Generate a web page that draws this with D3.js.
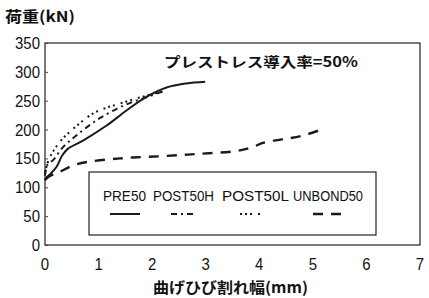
<!DOCTYPE html>
<html lang="ja">
<head>
<meta charset="utf-8">
<title>load vs crack width</title>
<script src="https://cdn.jsdelivr.net/npm/d3@7"></script>
<style>
  body { margin: 0; background: #fff; }
  text { fill: #111; }
</style>
</head>
<body>
<script>
// crack width (mm) / load (kN)
var pre50 = [[0, 112], [0.03, 117], [0.12, 125], [0.22, 136], [0.32, 155], [0.43, 167], [0.71, 181],
             [1.15, 207], [1.52, 233], [1.9, 257], [2.27, 273], [2.64, 280], [2.99, 283]];
var post50h = [[0, 120], [0.05, 140], [0.15, 147], [0.34, 170], [0.59, 190], [0.96, 216],
               [1.34, 236], [1.64, 248], [1.96, 258], [2.25, 268]];
var post50l = [[0, 125], [0.08, 150], [0.28, 179], [0.45, 195], [0.65, 211], [0.9, 228],
               [1.15, 238], [1.4, 245], [1.71, 254], [2.02, 262], [2.2, 266]];
var unbond50 = [[0, 113], [0.1, 120], [0.28, 127], [0.59, 140], [1.4, 150], [2.2, 154],
                [2.89, 158], [3.58, 163], [3.88, 170], [4.07, 177], [4.42, 183], [4.79, 189], [5.16, 200]];

var seriesNames = ["PRE50", "POST50H", "POST50L", "UNBOND50"];
var seriesData = [pre50, post50h, post50l, unbond50];
var seriesDash = [null, "6,4,2,4", "2,3,2,3,2,6", "10,8"];
var seriesWidth = [2, 2, 2, 2.4];

var xTicks = [0, 1, 2, 3, 4, 5, 6, 7];
var yTicks = [0, 50, 100, 150, 200, 250, 300, 350];

var W = 429, H = 298;
var svg = d3.select("body").append("svg")
    .attr("width", W).attr("height", H)
    .style("font-family", "'Liberation Sans', Arial, sans-serif");

var x = d3.scaleLinear().domain([0, 7]).range([45, 420]);
var y = d3.scaleLinear().domain([0, 350]).range([245, 43]);

// frame
svg.append("rect")
    .attr("x", x(0)).attr("y", y(350))
    .attr("width", x(7) - x(0)).attr("height", y(0) - y(350))
    .attr("fill", "none").attr("stroke", "#222").attr("stroke-width", 1.2);

// y axis: small inside ticks
var yAxis = svg.append("g")
    .attr("transform", "translate(" + x(0) + ",0)")
    .call(d3.axisRight(y).tickValues(yTicks).tickSize(3).tickFormat(""));
yAxis.select(".domain").remove();
yAxis.selectAll("line").attr("stroke", "#444");

svg.selectAll(".ylab")
    .data(yTicks)
    .enter().append("text")
    .attr("class", "ylab")
    .attr("x", 40)
    .attr("y", d => y(d) + 6)
    .attr("text-anchor", "end")
    .attr("font-size", 17)
    .attr("transform-origin", d => "40 " + y(d))
    .attr("transform", "scale(0.88,1)")
    .text(d => d);

svg.selectAll(".xlab")
    .data(xTicks)
    .enter().append("text")
    .attr("class", "xlab")
    .attr("x", d => x(d))
    .attr("y", 270)
    .attr("text-anchor", "middle")
    .attr("font-size", 17)
    .attr("transform-origin", d => x(d) + " 270")
    .attr("transform", "scale(0.88,1)")
    .text(d => d);

// axis titles
svg.append("text")
    .attr("x", 5).attr("y", 22)
    .attr("font-size", 15)
    .attr("font-weight", "bold")
    .attr("textLength", 70)
    .attr("lengthAdjust", "spacingAndGlyphs")
    .style("font-family", "'Noto Sans CJK JP', sans-serif")
    .text("荷重(kN)");

svg.append("text")
    .attr("x", 153).attr("y", 293)
    .attr("font-size", 15)
    .attr("font-weight", "bold")
    .attr("textLength", 155)
    .attr("lengthAdjust", "spacingAndGlyphs")
    .style("font-family", "'Noto Sans CJK JP', sans-serif")
    .text("曲げひび割れ幅(mm)");

svg.append("text")
    .attr("x", 164).attr("y", 67)
    .attr("font-size", 14)
    .attr("font-weight", "bold")
    .attr("textLength", 194)
    .attr("lengthAdjust", "spacingAndGlyphs")
    .style("font-family", "'Noto Sans CJK JP', sans-serif")
    .text("プレストレス導入率=50%");

// curves
var line = d3.line()
    .x(d => x(d[0]))
    .y(d => y(d[1]))
    .curve(d3.curveCatmullRom);

svg.selectAll(".curve")
    .data(seriesData)
    .enter().append("path")
    .attr("class", "curve")
    .attr("d", d => line(d))
    .attr("fill", "none")
    .attr("stroke", "#1a1a1a")
    .attr("stroke-width", (d, i) => seriesWidth[i])
    .attr("stroke-dasharray", (d, i) => seriesDash[i]);

// legend
svg.append("rect")
    .attr("x", 89).attr("y", 172)
    .attr("width", 287).attr("height", 63)
    .attr("fill", "#fff").attr("stroke", "#222").attr("stroke-width", 1.2);

var legX = [[103, 146], [153, 214], [222, 289], [293, 363]];
var legLine = [[110, 140], [171, 195], [240, 263], [313, 343]];

svg.selectAll(".legtext")
    .data(seriesNames)
    .enter().append("text")
    .attr("class", "legtext")
    .attr("x", (d, i) => legX[i][0])
    .attr("y", 201)
    .attr("font-size", 15)
    .attr("textLength", (d, i) => legX[i][1] - legX[i][0])
    .attr("lengthAdjust", "spacingAndGlyphs")
    .text(d => d);

svg.selectAll(".legline")
    .data(seriesNames)
    .enter().append("line")
    .attr("class", "legline")
    .attr("x1", (d, i) => legLine[i][0])
    .attr("x2", (d, i) => legLine[i][1])
    .attr("y1", 214).attr("y2", 214)
    .attr("stroke", "#1a1a1a")
    .attr("stroke-width", (d, i) => seriesWidth[i])
    .attr("stroke-dasharray", (d, i) => seriesDash[i]);
</script>
</body>
</html>
